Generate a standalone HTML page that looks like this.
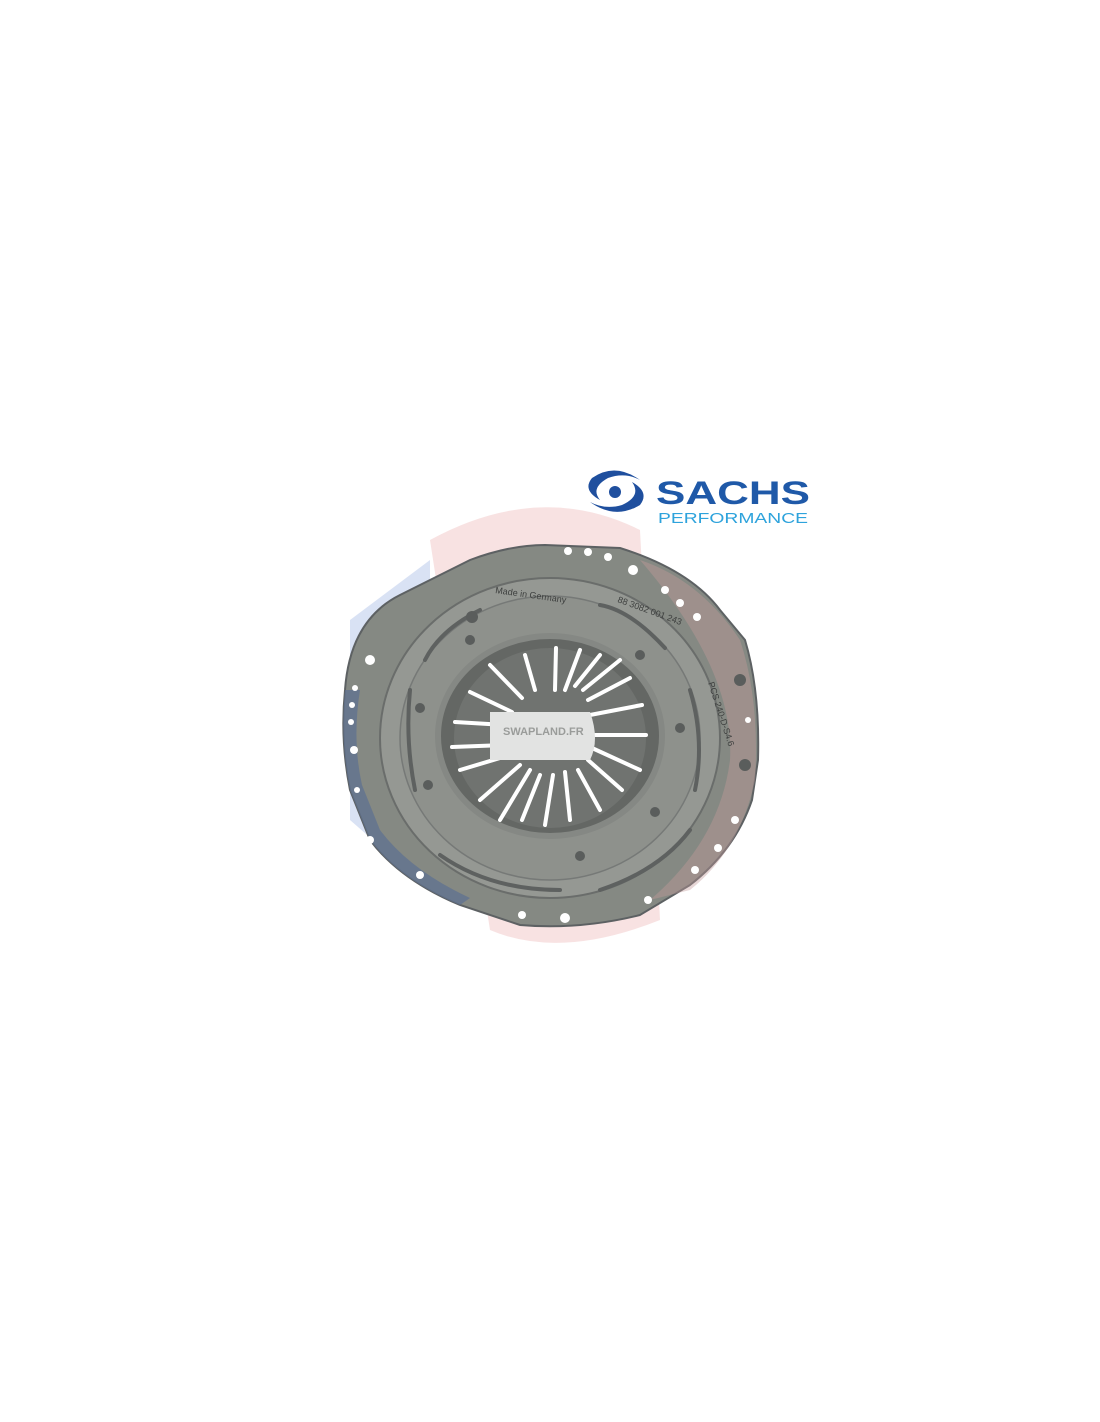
<!DOCTYPE html>
<html><head><style>
html,body{margin:0;padding:0;background:#fff;width:1100px;height:1422px;overflow:hidden}
svg{position:absolute;left:0;top:0}
</style></head><body>
<svg width="1100" height="1422" viewBox="0 0 1100 1422" xmlns="http://www.w3.org/2000/svg">
<path d="M350 620 L430 560 L430 890 L350 820 Z" fill="#c9d6f0" opacity="0.7"/>
<path d="M430 540 Q540 480 640 530 L660 920 Q560 960 490 930 Z" fill="#f2c6c6" opacity="0.5"/>
<path d="M345 690 Q350 620 400 595 L470 560 Q510 545 545 545 L620 548 Q690 570 720 610 L745 640 Q760 690 758 760 L752 800 Q735 850 690 885 L640 915 Q580 930 520 925 L460 905 Q400 880 370 840 L350 790 Q340 740 345 690 Z" fill="#858983" stroke="#5d6163" stroke-width="2"/>
<path d="M345 690 Q340 740 350 790 L370 840 Q400 880 460 905 L470 898 Q410 870 380 830 L362 785 Q352 740 360 690 Z" fill="#5f7290" opacity="0.75"/>
<path d="M640 560 Q700 580 740 640 Q760 700 755 780 Q740 850 690 890 L650 900 Q720 840 730 760 Q735 670 640 560Z" fill="#c39a9a" opacity="0.4"/>
<g fill="#fff">
<circle cx="568" cy="551" r="4"/><circle cx="588" cy="552" r="4"/><circle cx="608" cy="557" r="4"/>
<circle cx="633" cy="570" r="5"/><circle cx="665" cy="590" r="4"/><circle cx="680" cy="603" r="4"/>
<circle cx="697" cy="617" r="4"/><circle cx="748" cy="720" r="3"/><circle cx="735" cy="820" r="4"/>
<circle cx="718" cy="848" r="4"/><circle cx="695" cy="870" r="4"/><circle cx="648" cy="900" r="4"/>
<circle cx="565" cy="918" r="5"/><circle cx="522" cy="915" r="4"/><circle cx="370" cy="660" r="5"/>
<circle cx="355" cy="688" r="3"/><circle cx="352" cy="705" r="3"/><circle cx="351" cy="722" r="3"/>
<circle cx="354" cy="750" r="4"/><circle cx="357" cy="790" r="3"/><circle cx="370" cy="840" r="4"/>
<circle cx="420" cy="875" r="4"/>
</g>
<ellipse cx="550" cy="738" rx="170" ry="160" fill="#959893" stroke="#6a6d6b" stroke-width="2"/>
<ellipse cx="550" cy="738" rx="150" ry="142" fill="#8e918c" stroke="#767977" stroke-width="1.5"/>
<g stroke="#5e6160" stroke-width="4" fill="none" stroke-linecap="round">
<path d="M410 690 Q405 740 415 790"/><path d="M440 855 Q490 890 560 890"/><path d="M600 890 Q660 870 690 830"/>
<path d="M695 790 Q705 740 690 690"/><path d="M665 648 Q630 610 600 605"/><path d="M480 610 Q440 630 425 660"/>
</g>
<g fill="#5a5d5c">
<circle cx="420" cy="708" r="5"/><circle cx="428" cy="785" r="5"/><circle cx="580" cy="856" r="5"/>
<circle cx="655" cy="812" r="5"/><circle cx="680" cy="728" r="5"/><circle cx="640" cy="655" r="5"/>
<circle cx="470" cy="640" r="5"/><circle cx="472" cy="617" r="6"/><circle cx="740" cy="680" r="6"/><circle cx="745" cy="765" r="6"/>
</g>
<ellipse cx="550" cy="736" rx="112" ry="100" fill="#646764" stroke="#858884" stroke-width="6"/>
<ellipse cx="550" cy="738" rx="96" ry="90" fill="#707370"/>
<g stroke="#fff" stroke-width="4" stroke-linecap="round">
<line x1="530" y1="735" x2="646" y2="735"/>
<line x1="590" y1="715" x2="642" y2="705"/><line x1="588" y1="700" x2="630" y2="678"/><line x1="583" y1="690" x2="620" y2="660"/>
<line x1="575" y1="686" x2="600" y2="655"/><line x1="565" y1="690" x2="580" y2="650"/><line x1="555" y1="690" x2="556" y2="648"/>
<line x1="535" y1="690" x2="525" y2="655"/><line x1="522" y1="698" x2="490" y2="665"/><line x1="512" y1="712" x2="470" y2="692"/>
<line x1="505" y1="725" x2="455" y2="722"/><line x1="505" y1="745" x2="452" y2="747"/><line x1="510" y1="755" x2="460" y2="770"/>
<line x1="520" y1="765" x2="480" y2="800"/><line x1="530" y1="770" x2="500" y2="820"/><line x1="540" y1="775" x2="522" y2="820"/>
<line x1="553" y1="775" x2="545" y2="825"/><line x1="565" y1="772" x2="570" y2="820"/><line x1="578" y1="770" x2="600" y2="810"/>
<line x1="588" y1="760" x2="622" y2="790"/><line x1="592" y1="748" x2="640" y2="770"/>
</g>
<path d="M490 712 L590 712 Q600 740 590 760 L490 760 Z" fill="#e2e3e2"/>
<text x="503" y="735" font-family="Liberation Sans, sans-serif" font-size="11" font-weight="bold" fill="#9a9c9a">SWAPLAND.FR</text>
<text x="495" y="593" font-family="Liberation Sans, sans-serif" font-size="9" fill="#3d3f3e" transform="rotate(8 495 593)">Made in Germany</text>
<text x="617" y="602" font-family="Liberation Sans, sans-serif" font-size="9" fill="#3d3f3e" transform="rotate(20 617 602)">88 3082 001 243</text>
<text x="708" y="683" font-family="Liberation Sans, sans-serif" font-size="9" fill="#3d3f3e" transform="rotate(72 708 683)">PCS 240-D-S4.6</text>
<path d="M640 480 Q615 462 592 478 Q582 490 600 500 Q590 488 608 478 Q625 472 640 480Z" fill="#1f4f9e"/>
<path d="M590 502 Q615 520 640 505 Q650 492 632 482 Q642 496 622 505 Q605 510 590 502Z" fill="#1f4f9e"/>
<circle cx="615" cy="492" r="6" fill="#1f4f9e"/>
<text x="656" y="504" font-family="Liberation Sans, sans-serif" font-size="32" font-weight="bold" fill="#1f59a8" textLength="154" lengthAdjust="spacingAndGlyphs">SACHS</text>
<text x="658" y="523" font-family="Liberation Sans, sans-serif" font-size="15" fill="#2ea3dc" textLength="150" lengthAdjust="spacingAndGlyphs">PERFORMANCE</text>
</svg>
</body></html>
